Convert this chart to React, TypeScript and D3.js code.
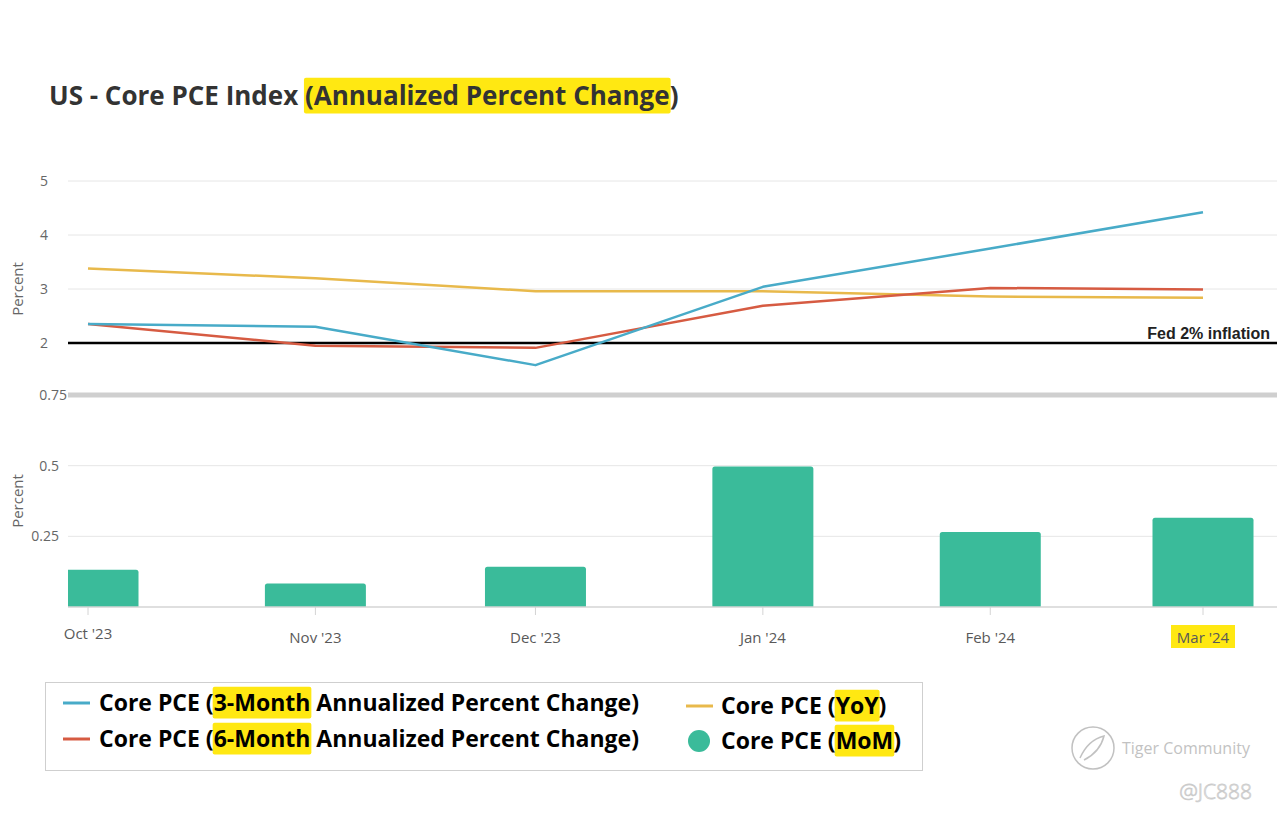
import { useEffect, useRef } from 'react';
import * as d3 from 'd3';

// ─── Data ──────────────────────────────────────────────────
const months = ['2023-10-01', '2023-11-01', '2023-12-01', '2024-01-01', '2024-02-01', '2024-03-01'];
const monthLabels = ["Oct '23", "Nov '23", "Dec '23", "Jan '24", "Feb '24", "Mar '24"];
const threeMonth = [2.35, 2.3, 1.59, 3.04, 3.75, 4.42];
const sixMonth = [2.35, 1.95, 1.91, 2.69, 3.02, 2.99];
const yoy = [3.38, 3.2, 2.96, 2.96, 2.86, 2.84];
const mom = [0.132, 0.083, 0.142, 0.497, 0.265, 0.316];
const topTicks = [2, 3, 4, 5];
const bottomTicks = [0.25, 0.5, 0.75];
const fedTarget = 2;

const W = 1277;
const H = 820;
const FONT = '"Open Sans", "Noto Sans", sans-serif';
const HL = '#ffe812';

type Part = { t: string; hl?: boolean };

export default function App() {
  const svgRef = useRef<SVGSVGElement>(null);

  useEffect(() => {
    if (!svgRef.current) return;
    const svg = d3.select(svgRef.current);
    svg.selectAll('*').remove();

    const dates = months.map((m) => new Date(m + 'T00:00:00'));
    const left = 68;
    const right = W;

    const x = d3.scaleTime().domain([dates[0], dates[dates.length - 1]]).range([88, 1203]);
    const yTop = d3.scaleLinear().domain([2, 5]).range([343, 181]);
    const yBot = d3.scaleLinear().domain([0, 0.75]).range([607, 395]);

    const defs = svg.append('defs');
    defs.append('clipPath').attr('id', 'plot-clip')
      .append('rect').attr('x', left).attr('y', 0).attr('width', right - left).attr('height', H);

    // ─── helper: text with highlighted parts ─────────────
    function hlText(
      parent: d3.Selection<SVGGElement, unknown, null, undefined>,
      px: number, py: number, parts: Part[], size: number, weight: number, fill: string,
    ) {
      const grp = parent.append('g');
      const text = grp.append('text')
        .attr('x', px).attr('y', py)
        .attr('font-family', FONT).attr('font-size', size)
        .attr('font-weight', weight).attr('fill', fill);
      parts.forEach((p) => text.append('tspan').text(p.t));
      const node = text.node() as SVGTextElement;
      let idx = 0;
      parts.forEach((p) => {
        if (p.hl && p.t.length) {
          const start = idx === 0 ? 0 : node.getSubStringLength(0, idx);
          const w = node.getSubStringLength(idx, p.t.length);
          grp.insert('rect', 'text')
            .attr('x', px + start - 1).attr('y', py - size * 1.05)
            .attr('width', w + 2).attr('height', size * 1.38)
            .attr('rx', 2)
            .attr('fill', HL);
        }
        idx += p.t.length;
      });
      return grp;
    }

    const root = svg.append('g');

    // ─── Title ────────────────────────────────────────────
    hlText(root, 49, 105, [
      { t: 'US - Core PCE Index ' },
      { t: '(Annualized Percent Change', hl: true },
      { t: ')' },
    ], 26, 700, '#333');

    // ─── Top panel grid + ticks ──────────────────────────
    const top = root.append('g');
    top.selectAll('line.grid')
      .data(topTicks.filter((t) => t !== fedTarget))
      .join('line')
      .attr('x1', left).attr('x2', right)
      .attr('y1', (d) => yTop(d)).attr('y2', (d) => yTop(d))
      .attr('stroke', '#e6e6e6').attr('stroke-width', 1);
    top.selectAll('text.tick')
      .data(topTicks)
      .join('text')
      .attr('x', 48).attr('y', (d) => yTop(d))
      .attr('dy', '0.35em').attr('text-anchor', 'end')
      .attr('font-family', FONT).attr('font-size', 14).attr('fill', '#666')
      .text((d) => String(d));
    top.append('text')
      .attr('transform', `translate(23, ${yTop(3)}) rotate(-90)`)
      .attr('text-anchor', 'middle')
      .attr('font-family', FONT).attr('font-size', 15).attr('fill', '#666')
      .text('Percent');

    // ─── Fed 2% line ─────────────────────────────────────
    top.append('line')
      .attr('x1', left).attr('x2', right)
      .attr('y1', yTop(fedTarget)).attr('y2', yTop(fedTarget))
      .attr('stroke', '#000').attr('stroke-width', 2.5);
    top.append('text')
      .attr('x', 1270).attr('y', yTop(fedTarget) - 4)
      .attr('text-anchor', 'end')
      .attr('font-family', '"Liberation Sans", Arial, sans-serif')
      .attr('font-size', 16).attr('font-weight', 700).attr('fill', '#222')
      .text('Fed 2% inflation');

    // ─── Lines ────────────────────────────────────────────
    const lineGen = (vals: number[]) =>
      d3.line<number>().x((_, i) => x(dates[i])).y((d) => yTop(d))(vals);
    const series = [
      { vals: yoy, color: '#e8b94b' },
      { vals: sixMonth, color: '#d65b42' },
      { vals: threeMonth, color: '#48abc8' },
    ];
    series.forEach((s) => {
      top.append('path')
        .attr('d', lineGen(s.vals))
        .attr('fill', 'none').attr('stroke', s.color)
        .attr('stroke-width', 2.5).attr('stroke-linejoin', 'round');
    });

    // ─── Separator ───────────────────────────────────────
    root.append('line')
      .attr('x1', left).attr('x2', right)
      .attr('y1', yBot(0.75)).attr('y2', yBot(0.75))
      .attr('stroke', '#cfcfcf').attr('stroke-width', 5);

    // ─── Bottom panel ────────────────────────────────────
    const bot = root.append('g');
    bot.selectAll('line.grid')
      .data(bottomTicks.filter((t) => t < 0.75))
      .join('line')
      .attr('x1', left).attr('x2', right)
      .attr('y1', (d) => yBot(d)).attr('y2', (d) => yBot(d))
      .attr('stroke', '#e6e6e6').attr('stroke-width', 1);
    bot.selectAll('text.tick')
      .data(bottomTicks)
      .join('text')
      .attr('x', (d) => (d === 0.75 ? 67 : 59)).attr('y', (d) => yBot(d))
      .attr('dy', '0.35em').attr('text-anchor', 'end')
      .attr('font-family', FONT).attr('font-size', 14).attr('fill', '#666')
      .text((d) => String(d));
    bot.append('text')
      .attr('transform', `translate(23, ${yBot(0.375)}) rotate(-90)`)
      .attr('text-anchor', 'middle')
      .attr('font-family', FONT).attr('font-size', 15).attr('fill', '#666')
      .text('Percent');

    const barW = 101;
    bot.append('g').attr('clip-path', 'url(#plot-clip)')
      .selectAll('path')
      .data(mom)
      .join('path')
      .attr('d', (d, i) => {
        const cx = x(dates[i]);
        const x0 = cx - barW / 2;
        const y0 = yBot(d);
        const y1 = yBot(0);
        const r = 2.5;
        return `M${x0},${y1}V${y0 + r}Q${x0},${y0} ${x0 + r},${y0}H${x0 + barW - r}Q${x0 + barW},${y0} ${x0 + barW},${y0 + r}V${y1}Z`;
      })
      .attr('fill', '#3abb9a');

    // x axis
    bot.append('line')
      .attr('x1', left).attr('x2', right)
      .attr('y1', yBot(0)).attr('y2', yBot(0))
      .attr('stroke', '#d4d4d4').attr('stroke-width', 1.5);
    bot.selectAll('line.xtick')
      .data(dates)
      .join('line')
      .attr('x1', (d) => x(d)).attr('x2', (d) => x(d))
      .attr('y1', yBot(0)).attr('y2', yBot(0) + 8)
      .attr('stroke', '#d4d4d4').attr('stroke-width', 1);
    dates.forEach((d, i) => {
      const label = monthLabels[i];
      const cx = x(d);
      const ly = i === 0 ? 639 : 643;
      if (i === dates.length - 1) {
        bot.append('rect')
          .attr('x', cx - 32).attr('y', 625).attr('width', 64).attr('height', 23)
          .attr('fill', HL);
      }
      bot.append('text')
        .attr('x', cx).attr('y', ly)
        .attr('text-anchor', 'middle')
        .attr('font-family', FONT).attr('font-size', 15).attr('fill', '#595959')
        .text(label);
    });

    // ─── Legend ───────────────────────────────────────────
    const leg = root.append('g');
    leg.append('rect')
      .attr('x', 45.5).attr('y', 682.5).attr('width', 877).attr('height', 88)
      .attr('fill', '#fff').attr('stroke', '#cfcfcf').attr('stroke-width', 1);

    const legFs = 23;
    const legItems = [
      { kind: 'line', color: '#48abc8', sx: 63, tx: 99, y: 703, parts: [{ t: 'Core PCE (' }, { t: '3-Month', hl: true }, { t: ' Annualized Percent Change)' }] },
      { kind: 'line', color: '#d65b42', sx: 63, tx: 99, y: 739, parts: [{ t: 'Core PCE (' }, { t: '6-Month', hl: true }, { t: ' Annualized Percent Change)' }] },
      { kind: 'line', color: '#e8b94b', sx: 686, tx: 721, y: 706, parts: [{ t: 'Core PCE (' }, { t: 'YoY', hl: true }, { t: ')' }] },
      { kind: 'dot', color: '#3abb9a', sx: 688, tx: 721, y: 741, parts: [{ t: 'Core PCE (' }, { t: 'MoM', hl: true }, { t: ')' }] },
    ];
    legItems.forEach((it) => {
      if (it.kind === 'line') {
        leg.append('line')
          .attr('x1', it.sx).attr('x2', it.sx + 27)
          .attr('y1', it.y).attr('y2', it.y)
          .attr('stroke', it.color).attr('stroke-width', 3);
      } else {
        leg.append('circle')
          .attr('cx', it.sx + 11).attr('cy', it.y).attr('r', 11)
          .attr('fill', it.color);
      }
      hlText(leg, it.tx, it.y + 8, it.parts as Part[], legFs, 700, '#000');
    });

    // ─── Watermark ───────────────────────────────────────
    const wm = root.append('g').attr('opacity', 0.6);
    wm.append('circle')
      .attr('cx', 1093).attr('cy', 748).attr('r', 21)
      .attr('fill', 'none').attr('stroke', '#999').attr('stroke-width', 1.5);
    wm.append('path')
      .attr('d', 'M1080,758 Q1088,740 1104,736 Q1100,752 1084,760')
      .attr('fill', 'none').attr('stroke', '#999').attr('stroke-width', 1.5);
    wm.append('text')
      .attr('x', 1122).attr('y', 754)
      .attr('font-family', FONT).attr('font-size', 16).attr('fill', '#9a9a9a')
      .text('Tiger Community');
    wm.append('text')
      .attr('x', 1252).attr('y', 799).attr('text-anchor', 'end')
      .attr('font-family', FONT).attr('font-size', 21).attr('font-weight', 300)
      .attr('fill', 'none')
      .attr('stroke', '#aaa').attr('stroke-width', 0.8)
      .text('@JC888');
  }, []);

  return (
    <div style={{ position: 'fixed', left: 0, top: 0, width: W, height: H, background: '#fff' }}>
      <svg ref={svgRef} width={W} height={H} style={{ display: 'block' }} />
    </div>
  );
}
